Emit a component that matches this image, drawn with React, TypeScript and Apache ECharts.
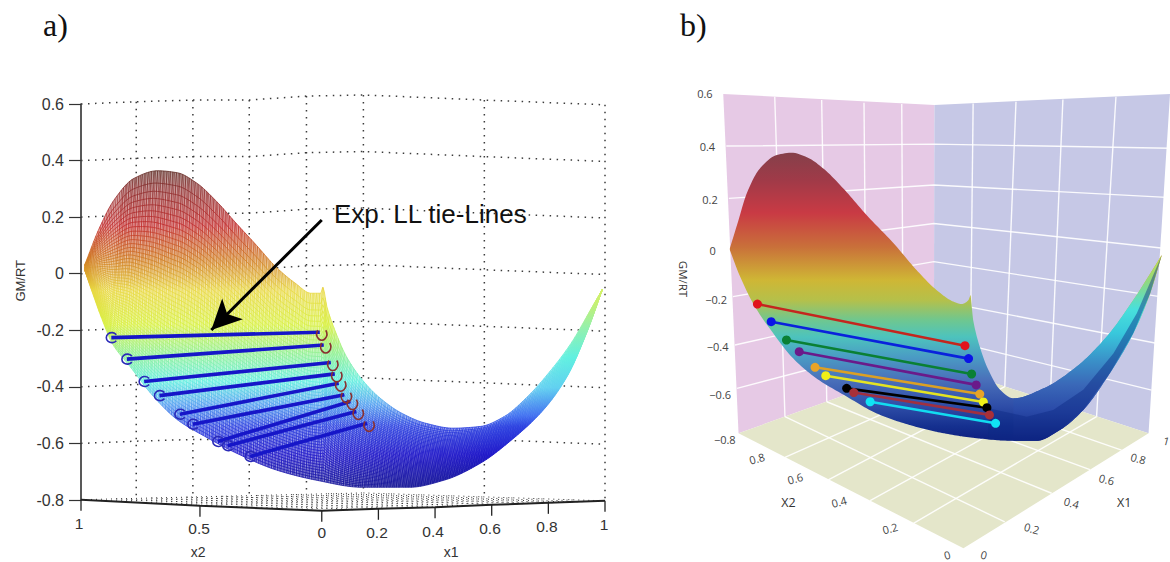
import React, { useEffect, useRef } from "react";
import * as echarts from "echarts";

// ---------- panel a: h is the unfolded bottom axis (x2 side negative), z is GM/RT
const topA = [[-0.837,0.031],[-0.788,0.155],[-0.733,0.261],[-0.663,0.337],[-0.58,0.364],[-0.51,0.357],[-0.441,0.32],[-0.371,0.255],[-0.302,0.178],[-0.232,0.102],[-0.163,0.025],[-0.093,-0.034],[-0.038,-0.069],[-0.003,-0.069],[0.004,-0.048],[0.018,-0.116],[0.046,-0.199],[0.087,-0.293],[0.143,-0.375],[0.199,-0.434],[0.282,-0.493],[0.365,-0.528],[0.463,-0.546],[0.56,-0.54],[0.644,-0.505],[0.727,-0.434],[0.81,-0.34],[0.88,-0.246],[0.949,-0.128],[0.991,-0.055]];
const botA = [[-0.837,0.013],[-0.809,-0.069],[-0.775,-0.163],[-0.74,-0.246],[-0.677,-0.328],[-0.594,-0.434],[-0.51,-0.516],[-0.413,-0.575],[-0.302,-0.634],[-0.163,-0.693],[-0.024,-0.729],[0.143,-0.755],[0.31,-0.755],[0.435,-0.729],[0.56,-0.67],[0.671,-0.587],[0.783,-0.481],[0.866,-0.364],[0.935,-0.21],[0.991,-0.055]];
const tieLinesA = [
  [[-0.743,-0.226],[-0.007,-0.207]],[[-0.688,-0.302],[0.007,-0.252]],[[-0.627,-0.381],[0.032,-0.314]],
  [[-0.573,-0.431],[0.046,-0.354]],[[-0.501,-0.497],[0.06,-0.387]],[[-0.455,-0.532],[0.08,-0.428]],
  [[-0.367,-0.593],[0.101,-0.452]],[[-0.332,-0.608],[0.122,-0.487]],[[-0.253,-0.646],[0.16,-0.529]],
];
const groundA = [[-0.85,-0.799],[-0.43,-0.82],[0,-0.838],[0.2,-0.831],[0.4,-0.826],[0.6,-0.817],[0.8,-0.81],[1,-0.803]];
const wallHA = [-0.85,-0.655,-0.455,-0.256,-0.054,0.147,0.574,1];
const wallLiftA = [0,0.008,0.014,0.014,0.028,0.032,0.014,-0.003];
const wallLevelsA = [0.6,0.4,0.2,0,-0.2,-0.4,-0.6];
const floorCornersA = { L:[-0.85,-0.799], B:[0.147,-0.775], R:[1,-0.803], F:[0,-0.838] };
const tickLabelsA = [["1",-0.857,-0.884],["0.5",-0.433,-0.902],["0",0,-0.916],["0.2",0.195,-0.916],["0.4",0.393,-0.912],["0.6",0.594,-0.902],["0.8",0.795,-0.895],["1",0.997,-0.887]];
const axisTitlesA = [["x2",-0.436,-0.985],["x1",0.457,-0.985]];
const arrowA = [[0.0,0.19],[-0.39,-0.199]];
const jetStopsA = [[0,"#5a2a22"],[0.06,"#8a2a2a"],[0.177,"#c02828"],[0.283,"#d07a20"],[0.381,"#e8d840"],[0.487,"#d8f040"],[0.575,"#90f090"],[0.664,"#60eee0"],[0.735,"#50a0f0"],[0.805,"#2a40e0"],[0.894,"#1c14c8"],[1,"#101090"]];
const armStopsA = [[0,"#e0f060"],[0.13,"#c8f070"],[0.26,"#90f0b0"],[0.39,"#60f0e0"],[0.53,"#60d0f0"],[0.66,"#4070f0"],[0.71,"#2a40e0"],[0.84,"#1c14c8"],[1,"#101090"]];

// ---------- panel b: w is the horizontal position across the panel, z is GM/RT
const topB = [[0.137,-0.026],[0.154,0.088],[0.17,0.195],[0.196,0.296],[0.229,0.35],[0.258,0.359],[0.288,0.341],[0.32,0.296],[0.359,0.216],[0.405,0.108],[0.458,-0.006],[0.503,-0.114],[0.542,-0.194],[0.575,-0.241],[0.592,-0.251],[0.605,-0.235],[0.609,-0.214],[0.614,-0.315],[0.627,-0.423],[0.644,-0.517],[0.667,-0.597],[0.693,-0.631],[0.752,-0.591],[0.817,-0.503],[0.876,-0.382],[0.928,-0.235],[0.984,-0.053]];
const botB = [[0.137,-0.033],[0.157,-0.14],[0.186,-0.261],[0.222,-0.369],[0.261,-0.47],[0.307,-0.551],[0.366,-0.624],[0.425,-0.692],[0.49,-0.739],[0.556,-0.772],[0.621,-0.792],[0.686,-0.802],[0.739,-0.802],[0.784,-0.759],[0.83,-0.678],[0.882,-0.53],[0.928,-0.369],[0.961,-0.208],[0.984,-0.053]];
const shadeB = [[0.644,-0.671],[0.719,-0.705],[0.771,-0.678],[0.83,-0.597],[0.889,-0.45],[0.935,-0.288],[0.984,-0.053],[0.961,-0.208],[0.928,-0.369],[0.882,-0.53],[0.83,-0.678],[0.784,-0.759],[0.739,-0.802],[0.686,-0.802],[0.644,-0.797]];
const leftWallB = [[0.124,0.596],[0.538,0.552],[0.537,-0.49],[0.154,-0.772]];
const rightWallB = [[0.538,0.552],[1,0.596],[0.958,-0.772],[0.537,-0.49]];
const floorB = [[0.154,-0.772],[0.537,-0.49],[0.958,-0.772],[0.595,-1.236]];
const gridLinesB = [
  [[0.13,0.386],[0.537,0.394],[0.999,0.377]],[[0.135,0.175],[0.537,0.229],[0.993,0.179]],
  [[0.139,-0.033],[0.537,0.074],[0.987,-0.026]],[[0.143,-0.221],[0.537,-0.08],[0.98,-0.221]],
  [[0.147,-0.416],[0.537,-0.235],[0.973,-0.409]],[[0.151,-0.591],[0.537,-0.383],[0.964,-0.598]],
  [[0.225,0.585],[0.245,-0.705]],[[0.317,0.572],[0.327,-0.645]],[[0.4,0.561],[0.405,-0.587]],[[0.474,0.556],[0.477,-0.534]],
  [[0.614,0.558],[0.608,-0.537]],[[0.698,0.565],[0.676,-0.584]],[[0.79,0.574],[0.765,-0.643]],[[0.894,0.585],[0.856,-0.705]],
  [[0.245,-0.705],[0.676,-1.129]],[[0.327,-0.645],[0.768,-1.014]],[[0.405,-0.587],[0.843,-0.919]],[[0.477,-0.534],[0.905,-0.84]],
  [[0.245,-0.869],[0.608,-0.537]],[[0.33,-0.96],[0.676,-0.584]],[[0.412,-1.044],[0.765,-0.643]],[[0.497,-1.135],[0.856,-0.705]],
];
const tieLinesB = [
  [[0.191,-0.251],[0.598,-0.419]],[[0.218,-0.322],[0.605,-0.471]],[[0.248,-0.396],[0.611,-0.533]],
  [[0.273,-0.443],[0.62,-0.577]],[[0.304,-0.506],[0.627,-0.614]],[[0.325,-0.54],[0.634,-0.646]],
  [[0.366,-0.591],[0.641,-0.669]],[[0.38,-0.608],[0.646,-0.698]],[[0.412,-0.645],[0.658,-0.732]],
];
const tieLineColorsB = ["#c4261e","#0a22dc","#0a8034","#6a1a8a","#dca024","#e4e422","#000000","#a03040","#12dcf0"];
const tieMarkerColorsB = ["#e0141c","#0a14e6","#0a8034","#6a1a8a","#e8a428","#f0f018","#000000","#a83038","#10e4f4"];
const labelsB = [
  ["0.6",0.088,0.599,0],["0.4",0.093,0.384,0],["0.2",0.098,0.171,0],["0",0.103,-0.036,0],["−0.2",0.11,-0.231,0],["−0.4",0.113,-0.423,0],["−0.6",0.118,-0.614,0],["−0.8",0.127,-0.797,0],
  ["0.8",0.19,-0.873,15],["0.6",0.265,-0.954,15],["0.4",0.351,-1.048,15],["0.2",0.451,-1.155,15],["0",0.563,-1.262,15],
  ["1",0.993,-0.802,-15],["0.8",0.938,-0.873,-15],["0.6",0.876,-0.958,-15],["0.4",0.807,-1.052,-15],["0.2",0.729,-1.155,-15],["0",0.635,-1.262,-15],
];
const axisTitlesB = [["X2",0.252,-1.052],["X1",0.91,-1.052]];
const jetStopsB = [[0,"#85404a"],[0.096,"#a03a48"],[0.21,"#c93a44"],[0.328,"#c9703a"],[0.443,"#cfb635"],[0.513,"#b5c04a"],[0.582,"#6fc78f"],[0.641,"#4dc3bd"],[0.71,"#4a9cc4"],[0.79,"#4a70ba"],[0.88,"#2f4ea8"],[0.952,"#15308f"],[1,"#0e2080"]];
const armStopsB = [[0,"#d8e040"],[0.09,"#c0e050"],[0.2,"#90d880"],[0.34,"#48e0dc"],[0.46,"#38c8dc"],[0.6,"#3a90c8"],[0.72,"#3a68b8"],[0.85,"#2a4aa8"],[1,"#0e2080"]];

// Smooth reading of an outline between its read-off points (keeps the cusp sharp).
const at = (pts: number[][], x: number) => {
  const n = pts.length;
  if (x <= pts[0][0]) return pts[0][1];
  if (x >= pts[n - 1][0]) return pts[n - 1][1];
  let i = 1;
  while (x > pts[i][0]) i++;
  const sl = (a: number, b: number) => (pts[b][1] - pts[a][1]) / (pts[b][0] - pts[a][0]);
  const m = (k: number) => {
    if (k <= 0) return sl(0, 1);
    if (k >= n - 1) return sl(n - 2, n - 1);
    const s0 = sl(k - 1, k), s1 = sl(k, k + 1);
    return s0 * s1 <= 0 ? 0 : (2 * s0 * s1) / (s0 + s1);
  };
  const d = pts[i][0] - pts[i - 1][0];
  const t = (x - pts[i - 1][0]) / d;
  const t2 = t * t, t3 = t2 * t;
  return (2 * t3 - 3 * t2 + 1) * pts[i - 1][1] + (t3 - 2 * t2 + t) * d * m(i - 1) + (-2 * t3 + 3 * t2) * pts[i][1] + (t3 - t2) * d * m(i);
};
const mix = (a: number[], b: number[], f: number) => [a[0] + (b[0] - a[0]) * f, a[1] + (b[1] - a[1]) * f];
const fine = (top: number[][], bot: number[][], step: number) => {
  const s = new Set([...top, ...bot].map((p) => p[0]));
  for (let x = top[0][0]; x < top[top.length - 1][0]; x += step) s.add(x);
  return Array.from(s).sort((a, b) => a - b);
};

const toStops = (s: any[]) => s.map(([offset, color]) => ({ offset, color }));
const gradient = (api: any, zTop: number, zBot: number, stops: any[]) => {
  const y0 = api.coord([0, zTop])[1];
  const y1 = api.coord([0, zBot])[1];
  return new echarts.graphic.LinearGradient(0, y0, 0, y1, toStops(stops), true);
};

const shapes = (g: number, kind: string, list: number[][][], z: number, styleOf: (api: any) => any) => ({
  type: "custom", xAxisIndex: g, yAxisIndex: g, coordinateSystem: "cartesian2d", silent: true, z,
  data: list.map((_, i) => i),
  renderItem: (p: any, api: any) => ({
    type: kind,
    shape: { points: list[p.dataIndex].map((c) => api.coord(c)) },
    style: styleOf(api),
  }),
});

const texts = (g: number, list: any[], z: number, font: string, fill: string) => ({
  type: "custom", xAxisIndex: g, yAxisIndex: g, coordinateSystem: "cartesian2d", silent: true, z,
  data: list.map((_, i) => i),
  renderItem: (p: any, api: any) => {
    const [text, x, y, rot] = list[p.dataIndex];
    const c = api.coord([x, y]);
    return {
      type: "text", x: c[0], y: c[1], rotation: (((rot ?? 0) as number) * Math.PI) / 180,
      style: { text, fill, font, align: "center", verticalAlign: "middle" },
    };
  },
});

const leftArc = "path://M9,2A5,5,0,1,0,9,8";
const rightArc = "path://M1,2A5,5,0,1,0,9,2";

function buildOption() {
  // ---- panel a mesh
  const stations = fine(topA, botA, 0.006);
  const ARM_A = 0.5;
  const outlineA = [...stations.map((h) => [h, at(topA, h)]), ...[...stations].reverse().map((h) => [h, at(botA, h)])];
  const alongMain: number[][][] = [];
  const alongArm: number[][][] = [];
  const N = 52;
  for (let k = 0; k <= N; k++) {
    const t = Math.pow(k / N, 0.74);
    const c = (h: number) => [h, at(topA, h) + (at(botA, h) - at(topA, h)) * t];
    alongMain.push(stations.filter((h) => h <= ARM_A).map(c));
    alongArm.push(stations.filter((h) => h >= ARM_A - 0.006).map(c));
  }
  const crossMain: number[][][] = [];
  const crossArm: number[][][] = [];
  for (let u = -0.835; u < 0.99; u += 0.0075) {
    const v = Math.min(0.99, u + 0.05);
    (u > ARM_A ? crossArm : crossMain).push([[u, at(topA, u)], [v, at(botA, v)]]);
  }
  for (let u = -0.7; u < 0.99; u += 0.011) {
    const v = Math.max(-0.835, u - 0.05);
    (u > ARM_A ? crossArm : crossMain).push([[u, at(topA, u)], [v, at(botA, v)]]);
  }
  const armPolyA = [
    ...stations.filter((h) => h >= ARM_A).map((h) => [h, at(topA, h)]),
    ...stations.filter((h) => h >= ARM_A).reverse().map((h) => [h, at(botA, h)]),
  ];
  // ---- panel a dotted walls and floor
  const levelLines = wallLevelsA.map((lv) => wallHA.map((h, i) => [h, lv + wallLiftA[i]]));
  const floorBack = [[-0.85,-0.799],[0.147,-0.775],[1,-0.803]];
  const uprights = wallHA.slice(1).map((h, i) => {
    const f = h <= 0.147 ? (h + 0.85) / 0.997 : (h - 0.147) / 0.853;
    const zb = h <= 0.147 ? mix(floorBack[0], floorBack[1], f)[1] : mix(floorBack[1], floorBack[2], f)[1];
    return [[h, 0.6 + wallLiftA[i + 1]], [h, zb]];
  });
  const { L, B, R, F } = floorCornersA;
  const floorLines: number[][][] = [];
  for (let k = 0; k <= 8; k++) {
    floorLines.push([mix(L, B, k / 8), mix(F, R, k / 8)]);
    floorLines.push([mix(L, F, k / 8), mix(B, R, k / 8)]);
  }
  const dotted = { stroke: "#3c3c3c", fill: "none", lineWidth: 1.5, lineDash: [1.5, 5.5] };
  const floorDotted = { stroke: "#333", fill: "none", lineWidth: 1, lineDash: [1, 4] };

  // ---- panel b surface
  const stationsB = fine(topB, botB, 0.004);
  const ARM_B = 0.693;
  const outlineB = [...stationsB.map((w) => [w, at(topB, w)]), ...[...stationsB].reverse().map((w) => [w, at(botB, w)])];
  const armB = stationsB.filter((w) => w >= ARM_B);
  const armPolyB = [...armB.map((w) => [w, at(topB, w)]), ...[...armB].reverse().map((w) => [w, at(botB, w)])];

  const lineBase = { type: "line", clip: false, silent: true, animation: false };
  const tiesA = tieLinesA.map((pair) => ({
    ...lineBase, xAxisIndex: 0, yAxisIndex: 0, z: 6, symbolSize: 10,
    lineStyle: { color: "#1616c8", width: 3.6 },
    data: [
      { value: pair[0], symbol: leftArc, itemStyle: { color: "transparent", borderColor: "#2a2ab8", borderWidth: 1.6 } },
      { value: pair[1], symbol: rightArc, symbolOffset: [2, 3], itemStyle: { color: "transparent", borderColor: "#8a3030", borderWidth: 1.6 } },
    ],
  }));
  const tiesB = tieLinesB.map((pair, i) => ({
    ...lineBase, xAxisIndex: 1, yAxisIndex: 1, z: 6, symbol: "circle", symbolSize: 9,
    lineStyle: { color: tieLineColorsB[i], width: 2.6 },
    itemStyle: { color: tieMarkerColorsB[i] },
    data: pair,
  }));

  return {
    animation: false,
    backgroundColor: "#ffffff",
    textStyle: { fontFamily: "Liberation Sans" },
    grid: [
      { left: 81, top: 104, width: 524, height: 396 },
      { left: 660, top: 93, width: 510, height: 347.2 },
    ],
    xAxis: [
      { type: "value", gridIndex: 0, min: -0.85, max: 1, show: false },
      { type: "value", gridIndex: 1, min: 0, max: 1, show: false },
    ],
    yAxis: [
      {
        type: "value", gridIndex: 0, min: -0.8, max: 0.6, interval: 0.2,
        axisLine: { show: true, onZero: false, lineStyle: { color: "#222", width: 1.5 } },
        axisTick: { show: true, length: 12, lineStyle: { color: "#333", width: 1.2 } },
        axisLabel: { fontSize: 16, color: "#333", margin: 17, fontFamily: "Liberation Sans", formatter: (v: number) => (Math.abs(v) < 1e-9 ? "0" : v.toFixed(1)) },
        splitLine: { show: false },
      },
      { type: "value", gridIndex: 1, min: -0.8, max: 0.6, interval: 0.2, show: false },
    ],
    graphic: [
      { type: "text", x: 43, y: 9, style: { text: "a)", font: "32px 'Liberation Serif'", fill: "#111" } },
      { type: "text", x: 680, y: 9, style: { text: "b)", font: "32px 'Liberation Serif'", fill: "#111" } },
    ],
    series: [
      // panel a
      shapes(0, "polyline", levelLines, 1, () => dotted),
      shapes(0, "polyline", uprights, 1, () => dotted),
      shapes(0, "polyline", floorLines, 1, () => floorDotted),
      { ...lineBase, xAxisIndex: 0, yAxisIndex: 0, z: 2, symbol: "none", lineStyle: { color: "#222", width: 2 }, data: groundA },
      {
        type: "custom", xAxisIndex: 0, yAxisIndex: 0, coordinateSystem: "cartesian2d", silent: true, z: 2,
        data: groundA.map((_, i) => i),
        renderItem: (p: any, api: any) => {
          const c = api.coord(groundA[p.dataIndex]);
          return { type: "line", shape: { x1: c[0], y1: c[1], x2: c[0], y2: c[1] + 11 }, style: { stroke: "#222", lineWidth: 1.3 } };
        },
      },
      shapes(0, "polygon", [outlineA], 3, () => ({ fill: "#ffffff" })),
      shapes(0, "polygon", [outlineA], 3, (api) => ({ fill: gradient(api, 0.37, -0.76, jetStopsA), opacity: 0.46 })),
      shapes(0, "polygon", [armPolyA], 3, () => ({ fill: "#ffffff" })),
      shapes(0, "polygon", [armPolyA], 3, (api) => ({ fill: gradient(api, 0, -0.76, armStopsA), opacity: 0.46 })),
      shapes(0, "polyline", crossMain, 4, (api) => ({ fill: "none", lineWidth: 0.6, stroke: gradient(api, 0.37, -0.76, jetStopsA) })),
      shapes(0, "polyline", alongMain, 4, (api) => ({ fill: "none", lineWidth: 0.8, stroke: gradient(api, 0.37, -0.76, jetStopsA) })),
      shapes(0, "polyline", crossArm, 4, (api) => ({ fill: "none", lineWidth: 0.6, stroke: gradient(api, 0, -0.76, armStopsA) })),
      shapes(0, "polyline", alongArm, 4, (api) => ({ fill: "none", lineWidth: 0.8, stroke: gradient(api, 0, -0.76, armStopsA) })),
      ...tiesA,
      {
        ...lineBase, xAxisIndex: 0, yAxisIndex: 0, z: 7, data: [],
        markLine: {
          silent: true, animation: false, symbol: ["none", "arrow"], symbolSize: [22, 30], label: { show: false },
          lineStyle: { color: "#000", width: 3, type: "solid" },
          data: [[{ coord: arrowA[0] }, { coord: arrowA[1] }]],
        },
      },
      texts(0, tickLabelsA, 5, "15.5px 'Liberation Sans'", "#333"),
      texts(0, axisTitlesA, 5, "14px 'Liberation Sans'", "#333"),
      texts(0, [["GM/RT", -1.065, -0.025, 90]], 5, "13px 'Liberation Sans'", "#333"),
      {
        type: "custom", xAxisIndex: 0, yAxisIndex: 0, coordinateSystem: "cartesian2d", silent: true, z: 8,
        data: [0],
        renderItem: (_: any, api: any) => {
          const c = api.coord([0.043, 0.211]);
          return { type: "text", x: c[0], y: c[1], style: { text: "Exp. LL tie-Lines", fill: "#111", font: "26px 'Liberation Sans'", align: "left", verticalAlign: "middle" } };
        },
      },
      // panel b
      shapes(1, "polygon", [leftWallB], 1, () => ({ fill: "#e6c9e5" })),
      shapes(1, "polygon", [rightWallB], 1, () => ({ fill: "#c6c8e6" })),
      shapes(1, "polygon", [floorB], 1, () => ({ fill: "#e4e6ca" })),
      shapes(1, "polyline", gridLinesB, 2, () => ({ fill: "none", stroke: "#ffffff", lineWidth: 1.4, opacity: 0.9 })),
      shapes(1, "polygon", [outlineB], 3, (api) => ({ fill: gradient(api, 0.36, -0.8, jetStopsB) })),
      shapes(1, "polygon", [armPolyB], 3, (api) => ({ fill: gradient(api, 0, -0.8, armStopsB) })),
      shapes(1, "polygon", [shadeB], 4, () => ({ fill: "#0e2a86", opacity: 0.45 })),
      ...tiesB,
      texts(1, labelsB, 5, "11px 'Open Sans'", "#444"),
      texts(1, axisTitlesB, 5, "12.5px 'Open Sans'", "#333"),
      texts(1, [["GM/RT", 0.047, -0.15, -90]], 5, "11.5px 'Open Sans'", "#333"),
    ],
  };
}

export default function App() {
  const ref = useRef<HTMLDivElement>(null);
  useEffect(() => {
    document.body.style.margin = "0";
    const chart = echarts.init(ref.current!, undefined, { renderer: "svg" });
    chart.setOption(buildOption() as any);
    return () => chart.dispose();
  }, []);
  return <div ref={ref} style={{ position: "absolute", left: 0, top: 0, width: 1170, height: 562 }} />;
}
